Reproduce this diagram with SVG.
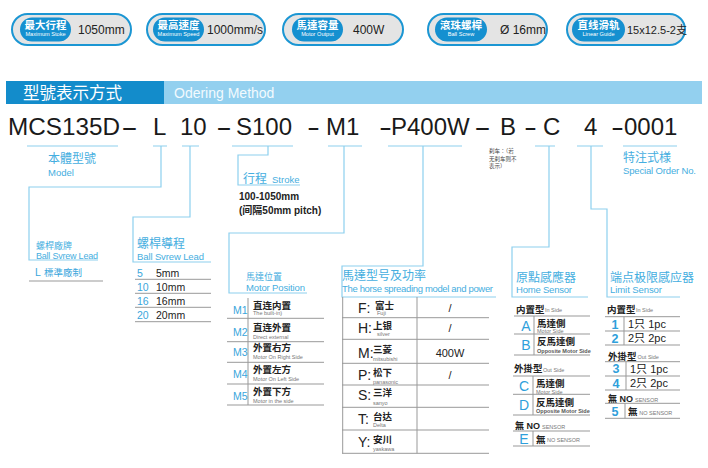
<svg xmlns="http://www.w3.org/2000/svg" width="708" height="468" viewBox="0 0 708 468">
<style>
text{font-family:'Liberation Sans','Noto Sans CJK TC','Noto Sans CJK SC',sans-serif;}
.bo{fill:#e4e4e4;stroke:#1b96d3;stroke-width:2;}
.bi{fill:#1590d0;}
.bt{fill:#fff;font-size:10.5px;font-weight:bold;text-anchor:middle;}
.bs{fill:#fff;font-size:5.6px;text-anchor:middle;}
.bv{fill:#222;font-size:12px;}
.code{fill:#1a1a1a;font-size:24px;}
.cn{fill:none;stroke:#8dd0ee;stroke-width:1.2;}
.tl{fill:none;stroke:#999;stroke-width:1;}
.lbl{fill:#45aee0;font-size:12px;}
.lbs{fill:#45aee0;font-size:9px;}
.len{fill:#45aee0;font-size:9.5px;}
.blk{fill:#222;font-size:10.5px;}
.num{fill:#3aa6dc;font-size:10.5px;}
.big{fill:#2f9fdb;font-size:14px;text-anchor:middle;}
.dg{fill:#2f9fdb;font-size:12.5px;font-weight:bold;text-anchor:middle;}
.cj{fill:#222;font-size:9.5px;font-weight:bold;}
.sub{fill:#777;font-size:5.5px;}
.subb{fill:#555;font-size:5.5px;font-weight:bold;}
.hl{fill:#222;font-size:14px;}
.pc{fill:#222;font-size:11px;}
.val{fill:#222;font-size:11px;text-anchor:middle;}
</style>

<g id="badge-stroke">
<rect class="bo" x="12" y="14" width="119" height="31" rx="15.5"/>
<rect class="bi" x="20" y="17.5" width="51" height="24" rx="12"/>
<text class="bt" x="45.5" y="28.8">最大行程</text>
<text class="bs" x="45.5" y="36">Maximum Stoke</text>
<text class="bv" x="78" y="33.5">1050mm</text>
</g>
<g id="badge-speed">
<rect class="bo" x="147" y="14" width="118" height="31" rx="15.5"/>
<rect class="bi" x="153" y="17.5" width="51" height="24" rx="12"/>
<text class="bt" x="178.5" y="28.8">最高速度</text>
<text class="bs" x="178.5" y="36">Maximum Speed</text>
<text class="bv" x="207" y="33.5">1000mm/s</text>
</g>
<g id="badge-motor">
<rect class="bo" x="283" y="14" width="120" height="31" rx="15.5"/>
<rect class="bi" x="292" y="17.5" width="51" height="24" rx="12"/>
<text class="bt" x="317.5" y="28.8">馬達容量</text>
<text class="bs" x="317.5" y="36">Motor Output</text>
<text class="bv" x="353" y="33.5">400W</text>
</g>
<g id="badge-screw">
<rect class="bo" x="428" y="14" width="119" height="31" rx="15.5"/>
<rect class="bi" x="435" y="17.5" width="52" height="24" rx="12"/>
<text class="bt" x="461" y="28.8">滾珠螺桿</text>
<text class="bs" x="461" y="36">Ball Screw</text>
<text class="bv" x="500" y="33.5">Ø 16mm</text>
</g>
<g id="badge-guide">
<rect class="bo" x="567" y="14" width="118" height="31" rx="15.5"/>
<rect class="bi" x="572" y="17.5" width="53" height="24" rx="12"/>
<text class="bt" x="598.5" y="28.8">直线滑轨</text>
<text class="bs" x="598.5" y="36">Linear Guide</text>
<text class="bv" x="627" y="33.5" style="font-size:11px">15x12.5-2支</text>
</g>

<g id="header">
<rect x="6" y="81" width="158" height="23" fill="#138ccb"/>
<rect x="164" y="81" width="538" height="23" fill="#93d0ef"/>
<text x="23" y="99" fill="#fff" style="font-size:16.5px">型號表示方式</text>
<text x="174" y="98" fill="#f2fafe" style="font-size:14px">Odering Method</text>
</g>

<g id="code">
<text class="code" x="8" y="135" textLength="112" lengthAdjust="spacingAndGlyphs">MCS135D</text>
<text class="code" x="121" y="135" textLength="17" lengthAdjust="spacingAndGlyphs">-</text>
<text class="code" x="153" y="135">L</text>
<text class="code" x="180" y="135">10</text>
<text class="code" x="216" y="135" textLength="16" lengthAdjust="spacingAndGlyphs">-</text>
<text class="code" x="236" y="135">S100</text>
<text class="code" x="307" y="135" textLength="13" lengthAdjust="spacingAndGlyphs">-</text>
<text class="code" x="326" y="135">M1</text>
<text class="code" x="379" y="135" textLength="13" lengthAdjust="spacingAndGlyphs">-</text>
<text class="code" x="391" y="135">P400W</text>
<text class="code" x="474" y="135" textLength="17" lengthAdjust="spacingAndGlyphs">-</text>
<text class="code" x="500" y="135">B</text>
<text class="code" x="524" y="135" textLength="13" lengthAdjust="spacingAndGlyphs">-</text>
<text class="code" x="543" y="135">C</text>
<text class="code" x="584" y="135">4</text>
<text class="code" x="611" y="135" textLength="13" lengthAdjust="spacingAndGlyphs">-</text>
<text class="code" x="624" y="135">0001</text>
</g>

<g id="connectors">
<path class="cn" d="M27,146H118 M153,146H167 M182,146H199 M232,146H293 M328,146H362 M388,146H462 M535,146H555 M577,146H603 M623,146H677"/>
<path class="cn" d="M161,146V187H29V260H98"/>
<path class="cn" d="M190,146V217H133V262H211"/>
<path class="cn" d="M268,146V155H238V185H300"/>
<path class="cn" d="M344,146V233H229V293H307"/>
<path class="cn" d="M423,146V266H342V297H496"/>
<path class="cn" d="M549,146V247H512V297H588"/>
<path class="cn" d="M591,146V209H607V297H680"/>
</g>

<g id="model">
<text class="lbl" x="48" y="162.5">本體型號</text>
<text class="len" x="48" y="175.5">Model</text>
</g>

<g id="brake-note" style="font-size:5.5px" fill="#444">
<text x="489" y="153">刹车：（若</text>
<text x="489" y="160.5">无刹车则不</text>
<text x="489" y="168">表示）</text>
</g>

<g id="special">
<text class="lbl" x="623" y="162">特注式様</text>
<text class="len" x="623" y="174" textLength="73">Special Order No.</text>
</g>

<g id="stroke">
<text class="lbl" x="243" y="183">行程</text>
<text class="len" x="272" y="183">Stroke</text>
<text x="239" y="199.5" fill="#222" style="font-size:10px;font-weight:bold">100-1050mm</text>
<text x="239" y="214" fill="#222" style="font-size:10px;font-weight:bold">(间隔50mm pitch)</text>
</g>

<g id="brand">
<text class="lbs" x="36" y="248.5">螺桿廠牌</text>
<text class="len" x="36" y="258.5" textLength="62" style="font-size:9px">Ball Svrew Lead</text>
<text class="num" x="35" y="275.5">L</text>
<text x="44" y="275.5" style="fill:#3aa6dc;font-size:9.5px">標準廠制</text>
<path class="tl" d="M29,281H103"/>
</g>

<g id="lead">
<text class="lbl" x="137" y="247.5">螺桿導程</text>
<text class="len" x="137" y="259.5" textLength="67">Ball Svrew Lead</text>
<text class="num" x="137" y="276.5">5</text><text class="blk" x="156" y="276.5">5mm</text>
<text class="num" x="137" y="290.5">10</text><text class="blk" x="156" y="290.5">10mm</text>
<text class="num" x="137" y="305">16</text><text class="blk" x="156" y="305">16mm</text>
<text class="num" x="137" y="319">20</text><text class="blk" x="156" y="319">20mm</text>
<path class="tl" d="M135,279.3H211 M135,293.3H211 M135,307.3H211 M135,321.7H211"/>
</g>

<g id="motor-position">
<text class="lbs" x="246" y="280">馬達位置</text>
<text class="len" x="246" y="290.8" textLength="59">Motor Position</text>
<path class="tl" d="M248,298V405 M227,318.3H324 M227,341.7H324 M227,362.3H324 M227,384H324 M227,405H324"/>
<text class="num" x="233" y="314">M1</text>
<text class="cj" x="253" y="308.5">直连内置</text>
<text class="sub" x="253" y="315.2">The built-in)</text>
<text class="num" x="233" y="335.5">M2</text>
<text class="cj" x="253" y="330.5">直连外置</text>
<text class="sub" x="253" y="338.5">Direct external</text>
<text class="num" x="233" y="356">M3</text>
<text class="cj" x="253" y="351">外置右方</text>
<text class="sub" x="253" y="359">Motor On Right Side</text>
<text class="num" x="233" y="377.5">M4</text>
<text class="cj" x="253" y="373">外置左方</text>
<text class="sub" x="253" y="381">Motor On Left Side</text>
<text class="num" x="233" y="399.5">M5</text>
<text class="cj" x="253" y="394.5">外置下方</text>
<text class="sub" x="253" y="402.7">Motor in the side</text>
</g>

<g id="motor-power">
<text class="lbl" x="342" y="279.5">馬達型号及功率</text>
<text class="len" x="342" y="291.5" textLength="151">The horse spreading model and power</text>
<path class="tl" d="M342.7,297V453.3 M417,297V453.3 M342,317.7H489 M342,339.3H489 M342,363.3H489 M342,385H489 M342,407.3H489 M342,430H489 M342,453.3H489"/>
<text class="hl" x="358" y="313.3">F:</text><text class="cj" x="375" y="308.8">富士</text><text class="sub" x="377" y="315.3">Fuji</text><text class="val" x="450" y="312.3">/</text>
<text class="hl" x="358" y="332.7">H:</text><text class="cj" x="373" y="328.8">上银</text><text class="sub" x="377" y="336.2">silver</text><text class="val" x="450" y="331.7">/</text>
<text class="hl" x="358" y="358.3">M:</text><text class="cj" x="373" y="353.1">三菱</text><text class="sub" x="373" y="360.5">mitsubishi</text><text class="val" x="450" y="357.3">400W</text>
<text class="hl" x="358" y="380">P:</text><text class="cj" x="373" y="375.8">松下</text><text class="sub" x="373" y="383.8">panasonic</text><text class="val" x="450" y="379">/</text>
<text class="hl" x="358" y="400">S:</text><text class="cj" x="373" y="396.4">三洋</text><text class="sub" x="373" y="404.5">sanyo</text>
<text class="hl" x="358" y="424">T:</text><text class="cj" x="373" y="419.8">台达</text><text class="sub" x="373" y="427.1">Delta</text>
<text class="hl" x="358" y="446.7">Y:</text><text class="cj" x="373" y="443.1">安川</text><text class="sub" x="373" y="450.5">yaskawa</text>
</g>

<g id="home-sensor">
<text class="lbl" x="516" y="282">原點感應器</text>
<text class="len" x="516" y="293.3" textLength="56">Home Sensor</text>
<text class="cj" x="516" y="312.5">内置型</text><text class="sub" x="545" y="312">In Side</text>
<path class="tl" d="M514,316H590 M514,334H590 M514,355H590 M534,316V355"/>
<text class="big" x="526" y="330.7">A</text>
<text class="cj" x="537" y="326.5">馬達側</text><text class="sub" x="537" y="333.2">Motor Side</text>
<text class="big" x="526" y="350">B</text>
<text class="cj" x="537" y="344.8">反馬達側</text><text class="subb" x="537" y="352.5">Opposite Motor Side</text>
<text class="cj" x="514" y="372">外掛型</text><text class="sub" x="543" y="371.5">Out Side</text>
<path class="tl" d="M513,376H590 M513,394.3H590 M513,415H590 M533,376V415"/>
<text class="big" x="524" y="390.7">C</text>
<text class="cj" x="536" y="386.5">馬達側</text><text class="sub" x="536" y="393.5">Motor Side</text>
<text class="big" x="524" y="410">D</text>
<text class="cj" x="536" y="405.5">反馬達側</text><text class="subb" x="536" y="412.5">Opposite Motor Side</text>
<text class="cj" x="515" y="429" style="font-size:9px">無 NO</text><text class="sub" x="542" y="429">SENSOR</text>
<path class="tl" d="M513,431H590 M513,446H590 M533,431V446"/>
<text class="big" x="524" y="444">E</text>
<text class="cj" x="536" y="442.6">無</text><text class="sub" x="547" y="442">NO SENSOR</text>
</g>

<g id="limit-sensor">
<text class="lbl" x="610" y="282">端点极限感应器</text>
<text class="len" x="610" y="293.3" textLength="52">Limit Sensor</text>
<text class="cj" x="607" y="312.5">内置型</text><text class="sub" x="636" y="312">In Side</text>
<path class="tl" d="M605,316.7H680 M605,331H680 M605,345H680 M624,316.7V345"/>
<text class="dg" x="615" y="328.6">1</text><text class="pc" x="628" y="328.3">1只 1pc</text>
<text class="dg" x="615" y="342.6">2</text><text class="pc" x="628" y="342.3">2只 2pc</text>
<text class="cj" x="608" y="359.5">外掛型</text><text class="sub" x="637.5" y="359">Out Side</text>
<path class="tl" d="M605,361.7H680 M605,376H680 M605,390H680 M626,361.7V390"/>
<text class="dg" x="616" y="373.4">3</text><text class="pc" x="630" y="373.1">1只 1pc</text>
<text class="dg" x="616" y="387.6">4</text><text class="pc" x="630" y="387.3">2只 2pc</text>
<text class="cj" x="608" y="402" style="font-size:9px">無 NO</text><text class="sub" x="635" y="402">SENSOR</text>
<path class="tl" d="M605,403.3H680 M605,418.3H680 M625,403.3V418.3"/>
<text class="dg" x="615" y="415.5">5</text>
<text class="cj" x="628" y="415">無</text><text class="sub" x="639.3" y="414.5">NO SENSOR</text>
</g>
</svg>
